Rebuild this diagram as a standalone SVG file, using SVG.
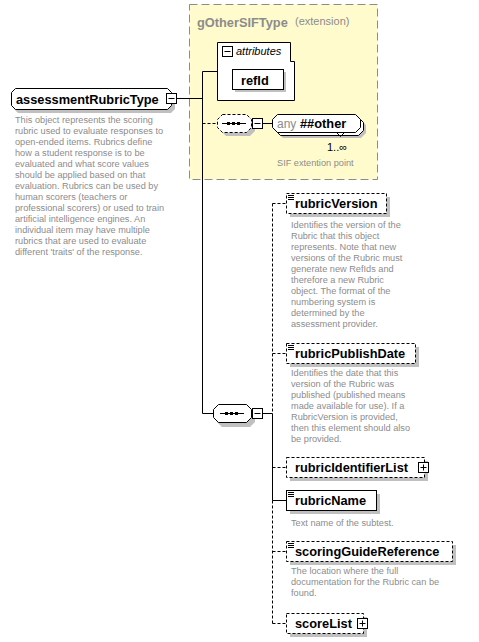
<svg xmlns="http://www.w3.org/2000/svg" width="479" height="642" viewBox="0 0 479 642">
<style>
.sh{fill:#c0c0c0;stroke:none}
.box{fill:#fff;stroke:#000;stroke-width:1}
.opt{fill:#fff;stroke:#000;stroke-width:1;stroke-dasharray:3,2}
.ln{fill:none;stroke:#000;stroke-width:1}
.dl{fill:none;stroke:#000;stroke-width:1;stroke-dasharray:3,2}
.nm{font-family:"Liberation Sans",Arial,sans-serif;font-weight:bold;font-size:12.8px;fill:#000}
.ds{font-family:"Liberation Sans",Arial,sans-serif;font-size:9.2px;fill:#8c8c8c}
</style>
<defs>
<g id="minus"><rect x="0.5" y="0.5" width="10" height="10" fill="#fff" stroke="#000"/><path d="M2.5,5.5 H8.5" stroke="#000"/></g>
<g id="plus"><rect x="0.5" y="0.5" width="10" height="10" fill="#fff" stroke="#000"/><path d="M2.5,5.5 H8.5 M5.5,2.5 V8.5" stroke="#000"/></g>
<path id="elicon" d="M0,0.5 H6 M0,2.5 H6 M0,4.5 H6" stroke="#000" fill="none"/>
<g id="seqdots"><path d="M0,0.5 H24" stroke="#000"/><rect x="5" y="-1" width="3" height="3" fill="#000"/><rect x="10" y="-1" width="3" height="3" fill="#000"/><rect x="15" y="-1" width="3" height="3" fill="#000"/></g>
</defs>

<g id="gOtherSIFType">
<rect x="189.5" y="4.5" width="188" height="175" fill="#FFFBCC" stroke="#8c8c8c" stroke-dasharray="8,4"/>
<text x="197" y="27" font-family="Liberation Sans, Arial, sans-serif" font-weight="bold" font-size="12.8" fill="#8c8c8c">gOtherSIFType</text>
<text x="295" y="25" font-family="Liberation Sans, Arial, sans-serif" font-size="11" fill="#8c8c8c">(extension)</text>
</g>

<g id="attributes">
<path class="box" d="M217.5,42.5 H290.5 V61.5 H294.5 V100.5 H217.5 Z"/>
<use href="#minus" x="222" y="46"/>
<text x="236" y="55" font-family="Liberation Sans, Arial, sans-serif" font-style="italic" font-size="11" fill="#000">attributes</text>
</g>

<g id="refId">
<rect class="sh" x="235" y="72" width="51" height="20"/>
<rect class="box" x="232.5" y="69.5" width="51" height="20"/>
<text class="nm" x="241" y="84.5">refId</text>
</g>

<g id="sequence1">
<path class="sh" d="M226,118 H250 L255,123 V131 L250,136 H226 L221,131 V123 Z"/>
<path class="opt" d="M222.5,114.5 H246.5 L251.5,119.5 V127.5 L246.5,132.5 H222.5 L217.5,127.5 V119.5 Z"/>
<use href="#seqdots" x="222" y="123"/>
<use href="#minus" x="252" y="118"/>
</g>

<g id="any">
<path class="sh" d="M283,120 H361 L366,125 V133 L361,138 H283 L278,133 V125 Z"/>
<path class="box" d="M280.5,117.5 H358.5 L363.5,122.5 V130.5 L358.5,135.5 H280.5 L275.5,130.5 V122.5 Z"/>
<path class="box" d="M277.5,114.5 H355.5 L360.5,119.5 V127.5 L355.5,132.5 H277.5 L272.5,127.5 V119.5 Z"/>
<path class="ln" d="M336.5,132.5 L340.5,136.5 L344.5,132.5"/>
<text x="277" y="128" font-family="Liberation Sans, Arial, sans-serif" font-size="12" fill="#8c8c8c">any</text>
<text class="nm" x="300" y="128">##other</text>
<text x="327" y="151" font-family="Liberation Sans, Arial, sans-serif" font-size="11" fill="#000">1..∞</text>
<text class="ds" x="277" y="166">SIF extention point</text>
</g>

<g id="assessmentRubricType">
<path class="sh" d="M18,92 H171 L175,96 V109 L171,113 H18 L14,109 V96 Z"/>
<path class="box" d="M15.5,88.5 H167.5 L171.5,92.5 V105.5 L167.5,109.5 H15.5 L11.5,105.5 V92.5 Z"/>
<text class="nm" x="16" y="103.5">assessmentRubricType</text>
<use href="#minus" x="166" y="93"/>
<text class="ds" x="15" y="123">This object represents the scoring</text>
<text class="ds" x="15" y="134">rubric used to evaluate responses to</text>
<text class="ds" x="15" y="145">open-ended items. Rubrics define</text>
<text class="ds" x="15" y="156">how a student response is to be</text>
<text class="ds" x="15" y="167">evaluated and what score values</text>
<text class="ds" x="15" y="178">should be applied based on that</text>
<text class="ds" x="15" y="189">evaluation. Rubrics can be used by</text>
<text class="ds" x="15" y="200">human scorers (teachers or</text>
<text class="ds" x="15" y="211">professional scorers) or used to train</text>
<text class="ds" x="15" y="222">artificial intelligence engines. An</text>
<text class="ds" x="15" y="233">individual item may have multiple</text>
<text class="ds" x="15" y="244">rubrics that are used to evaluate</text>
<text class="ds" x="15" y="255">different 'traits' of the response.</text>
</g>

<g id="sequence2">
<path class="sh" d="M222,408 H250 L255,413 V422 L250,427 H222 L217,422 V413 Z"/>
<path class="box" d="M218.5,404.5 H246.5 L251.5,409.5 V417.5 L246.5,422.5 H218.5 L213.5,417.5 V409.5 Z"/>
<use href="#seqdots" x="220" y="413"/>
<use href="#minus" x="252" y="408"/>
</g>

<g id="rubricVersion">
<rect class="sh" x="290" y="197" width="100" height="20"/>
<rect class="opt" x="286.5" y="193.5" width="100" height="20"/>
<use href="#elicon" x="288" y="195"/>
<text class="nm" x="295" y="208">rubricVersion</text>
<text class="ds" x="291" y="228">Identifies the version of the</text>
<text class="ds" x="291" y="239">Rubric that this object</text>
<text class="ds" x="291" y="250">represents. Note that new</text>
<text class="ds" x="291" y="261">versions of the Rubric must</text>
<text class="ds" x="291" y="272">generate new RefIds and</text>
<text class="ds" x="291" y="283">therefore a new Rubric</text>
<text class="ds" x="291" y="294">object. The format of the</text>
<text class="ds" x="291" y="305">numbering system is</text>
<text class="ds" x="291" y="316">determined by the</text>
<text class="ds" x="291" y="327">assessment provider.</text>
</g>

<g id="rubricPublishDate">
<rect class="sh" x="290" y="347" width="129" height="20"/>
<rect class="opt" x="286.5" y="343.5" width="129" height="20"/>
<use href="#elicon" x="288" y="345"/>
<text class="nm" x="295" y="358">rubricPublishDate</text>
<text class="ds" x="291" y="376">Identifies the date that this</text>
<text class="ds" x="291" y="387">version of the Rubric was</text>
<text class="ds" x="291" y="398">published (published means</text>
<text class="ds" x="291" y="409">made available for use). If a</text>
<text class="ds" x="291" y="420">RubricVersion is provided,</text>
<text class="ds" x="291" y="431">then this element should also</text>
<text class="ds" x="291" y="442">be provided.</text>
</g>

<g id="rubricIdentifierList">
<rect class="sh" x="290" y="461" width="138" height="20"/>
<rect class="opt" x="286.5" y="457.5" width="138" height="20"/>
<text class="nm" x="295" y="472">rubricIdentifierList</text>
<use href="#plus" x="418" y="462"/>
</g>

<g id="rubricName">
<rect class="sh" x="290" y="494" width="90" height="20"/>
<rect class="box" x="286.5" y="490.5" width="90" height="20"/>
<use href="#elicon" x="288" y="492"/>
<text class="nm" x="295" y="505">rubricName</text>
<text class="ds" x="291" y="526">Text name of the subtest.</text>
</g>

<g id="scoringGuideReference">
<rect class="sh" x="290" y="545" width="166" height="20"/>
<rect class="opt" x="286.5" y="541.5" width="166" height="20"/>
<use href="#elicon" x="288" y="543"/>
<text class="nm" x="295" y="556">scoringGuideReference</text>
<text class="ds" x="291" y="574">The location where the full</text>
<text class="ds" x="291" y="585">documentation for the Rubric can be</text>
<text class="ds" x="291" y="596">found.</text>
</g>

<g id="scoreList">
<rect class="sh" x="290" y="617" width="77" height="20"/>
<rect class="opt" x="286.5" y="613.5" width="77" height="20"/>
<text class="nm" x="295" y="628">scoreList</text>
<use href="#plus" x="357" y="618"/>
</g>

<g id="connectors">
<path class="ln" d="M176,98.5 H202.5 M202.5,71.5 V413.5 M202.5,71.5 H217 M202.5,413.5 H213 M262,123.5 H272 M262,413.5 H272.5"/>
<path class="dl" d="M202.5,123.5 H217"/>
<path class="dl" d="M272.5,203.5 V413.5"/>
<path class="ln" d="M272.5,413.5 V500.5 H286"/>
<path class="dl" d="M272.5,500.5 V623.5"/>
<path class="dl" d="M272.5,203.5 H286 M272.5,353.5 H286 M272.5,467.5 H286 M272.5,551.5 H286 M272.5,623.5 H286"/>
</g>
</svg>
